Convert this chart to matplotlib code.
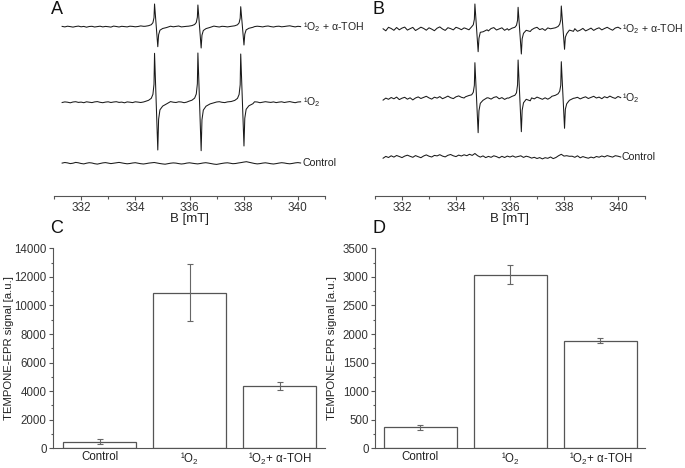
import numpy as np
import matplotlib
matplotlib.use('Agg')
import matplotlib.pyplot as plt
from matplotlib.ticker import MultipleLocator

plt.rcParams['font.family'] = ['Liberation Sans', 'DejaVu Sans']
plt.rcParams['mathtext.fontset'] = 'custom'
plt.rcParams['mathtext.rm'] = 'Liberation Sans'
plt.rcParams['mathtext.it'] = 'Liberation Sans:italic'

# ---- EPR spectra (values in pixel-like intensity units) ----
field = np.round(np.arange(331.3, 340.15, 0.1), 2)   # baseline sampling, mT
pk_dx = np.array([-0.35, -0.22, -0.12, -0.06, -0.02, 0.0, 0.12, 0.15, 0.2, 0.3, 0.45])

lines_A = [334.71, 336.31, 337.89]
lines_B = [334.70, 336.30, 337.90]

# panel A, top: 1O2 + a-TOH
A_top_noise = [0.3,-0.2,0.5,0.1,-0.4,0.2,0.6,-0.1,0.3,-0.5,
               0.2,0.4,-0.3,0.1,0.5,-0.2,0.3,0.0,-0.4,0.6,
               0.2,-0.3,0.4,0.1,-0.2,0.5,0.3,-0.1,0.2,0.8,
               0.4,-0.2,0.3,0.6,0.2,-0.3,0.4,0.1,-0.5,0.2,
               0.5,-0.1,0.3,0.7,-0.2,0.1,0.4,-0.3,0.2,0.6,
               0.0,-0.4,0.3,0.5,-0.1,0.2,0.6,0.1,-0.3,0.4,
               0.2,-0.2,0.5,0.1,-0.4,0.3,0.6,-0.1,0.2,0.4,
               -0.3,0.1,0.5,0.2,-0.2,0.4,0.7,0.1,-0.3,0.3,
               0.5,-0.1,0.2,0.6,0.9,0.3,-0.2,0.4,0.1]
A_top_peaks = [[0.4, 1.0, 2.0, 4.0, 9.0, 22.7, -20.0, -8.0, -3.5, -1.8, -0.8],
               [0.5, 1.1, 2.2, 4.2, 9.5, 21.7, -21.3, -8.5, -3.8, -1.9, -0.7],
               [0.4, 0.9, 1.9, 3.8, 8.5, 20.0, -18.3, -7.5, -3.2, -1.6, -0.6]]
# panel A, middle: 1O2
A_mid_noise = [-0.2,0.4,0.1,-0.5,0.3,0.6,-0.1,0.2,-0.4,0.5,
               0.1,-0.3,0.4,0.7,0.0,-0.4,0.2,0.5,-0.2,0.3,
               0.6,-0.1,0.2,-0.5,0.4,0.1,-0.3,0.5,0.2,-0.2,
               0.3,0.6,0.1,-0.4,0.2,0.5,-0.1,0.3,-0.3,0.4,
               0.7,0.1,-0.2,0.5,0.3,-0.4,0.2,0.6,-0.1,0.3,
               -0.2,0.5,0.1,-0.3,0.4,0.2,-0.5,0.3,0.6,0.0,
               -0.3,0.4,0.2,-0.1,0.5,0.8,0.1,-0.3,0.4,0.2,
               -0.2,0.5,0.3,-0.4,0.1,0.6,0.2,-0.1,0.4,-0.3,
               0.2,0.5,-0.2,0.3,0.7,0.1,-0.4,0.3,0.5]
A_mid_peaks = [[0.8, 2.0, 4.0, 8.0, 18.0, 49.0, -47.7, -17.0, -7.5, -3.8, -1.5],
               [0.9, 2.1, 4.2, 8.3, 18.5, 49.3, -48.4, -17.5, -7.8, -3.9, -1.6],
               [0.8, 1.9, 3.9, 7.8, 17.5, 48.3, -43.7, -16.0, -7.0, -3.5, -1.4]]
# panel A, bottom: control
A_ctrl_noise = [0.2,0.8,0.4,-0.3,0.1,0.9,0.5,-0.2,-0.6,0.1,
                0.6,0.3,-0.4,-0.8,-0.2,0.4,0.7,0.2,-0.3,0.1,
                0.5,0.9,0.4,-0.1,-0.5,-0.2,0.3,0.6,0.1,-0.4,
                -0.7,-0.3,0.2,0.5,0.8,0.3,-0.2,-0.6,-0.9,-0.4,
                0.1,0.4,0.2,-0.3,-0.7,-0.4,0.2,0.5,0.1,-0.3,
                -0.6,-0.2,0.3,0.6,0.2,-0.3,-0.8,-1.1,-0.6,-0.1,
                0.3,0.5,0.1,-0.4,-0.2,0.3,0.7,1.2,1.6,1.0,
                0.4,-0.2,-0.6,-0.3,0.2,0.5,0.1,-0.4,-0.7,-0.3,
                0.2,0.6,0.3,-0.2,-0.5,-0.1,0.4,0.7,0.3]

# panel B, top
B_top_noise = [0.5,-1.5,2.0,0.8,-1.0,1.8,-0.5,1.2,2.2,-0.8,
               0.6,1.9,-1.2,0.4,2.1,0.9,-0.9,1.5,0.2,-1.4,
               1.1,2.4,0.3,-1.1,1.6,0.7,-0.6,2.0,1.0,-0.4,
               1.4,0.1,-1.3,1.2,2.3,0.5,-0.9,1.0,0.2,-1.6,
               0.8,1.7,-0.7,0.4,1.5,-1.0,0.6,1.9,0.1,-1.2,
               1.3,0.4,-0.8,1.8,0.9,-0.5,1.1,2.0,-0.3,0.7,
               -1.1,1.4,0.5,-0.6,1.6,0.2,-1.0,0.9,1.8,-0.4,
               -1.5,0.6,-2.0,-0.8,0.9,-1.6,-0.3,1.2,-1.1,0.5,
               1.5,-0.6,0.8,2.0,0.4,-0.9,1.3,2.1,0.6]
B_top_peaks = [[1.0, -0.5, 2.5, 4.5, 10.0, 25.3, -22.4, -9.0, -3.0, -2.5, -0.5],
               [-0.8, 1.2, 2.0, 4.0, 9.0, 22.0, -24.7, -9.5, -4.0, -1.0, -2.2],
               [0.8, 1.5, 2.8, 5.0, 9.5, 23.3, -20.0, -8.0, -4.5, -0.8, -2.0]]
# panel B, middle
B_mid_noise = [-1.8,0.2,-1.0,0.8,-0.5,1.2,-1.3,0.1,1.0,-0.9,
               0.5,-1.6,0.3,1.4,-0.2,0.9,2.0,0.4,-0.8,1.1,
               0.2,1.7,-0.4,0.8,2.2,0.6,-0.3,1.5,2.4,1.0,
               0.3,1.8,2.6,1.2,3.0,0.8,-0.6,1.0,-1.2,0.4,
               -0.8,0.9,1.6,-0.5,0.7,-1.1,0.3,1.4,0.2,-0.7,
               0.8,1.5,-0.3,0.6,1.9,0.4,-0.6,1.2,0.1,-1.0,
               0.5,-0.9,0.7,-1.4,0.3,1.1,-0.8,0.4,-0.5,0.8,
               -1.2,0.2,1.0,-0.6,0.6,1.5,-0.2,0.9,2.0,0.3,
               1.2,-0.4,1.6,0.5,2.2,0.8,-0.1,1.8,0.7]
B_mid_peaks = [[1.5, 2.8, 3.5, 6.0, 13.0, 35.6, -34.4, -12.5, -5.0, -2.0, 0.5],
               [0.2, 2.0, 3.0, 5.5, 13.5, 38.3, -33.4, -12.0, -4.5, -1.0, -2.5],
               [2.0, 3.0, 4.5, 7.0, 13.0, 36.6, -30.0, -11.0, -5.5, -2.0, 0.0]]
# panel B, bottom: control
B_ctrl_noise = [-1.5,0.3,-0.8,0.9,-0.4,1.2,0.2,-0.9,0.6,1.5,
                0.4,-0.6,1.1,0.0,-1.0,0.7,1.8,0.5,-0.3,1.3,
                0.8,2.0,0.6,-0.2,1.4,2.2,0.9,0.1,1.6,0.7,
                1.9,1.0,2.4,1.3,3.2,1.0,-0.4,0.8,-0.9,0.3,
                -0.6,0.9,0.1,-1.2,0.4,-0.8,0.6,-0.3,0.8,-0.5,
                0.2,0.9,-0.7,0.5,-0.2,-1.4,-0.6,-1.8,-0.9,-2.2,
                -1.0,-1.6,-0.3,-1.9,-0.8,1.0,2.4,0.6,1.0,0.4,
                0.5,-0.6,0.9,-1.1,0.1,-0.8,-1.5,-0.4,-1.2,0.2,
                -0.5,0.7,-0.2,1.1,0.3,-0.4,1.0,0.5,-0.3]

# baseline offsets of the stacked traces
offsets_A = [169.3, 93.7, 32.7]
offsets_B = [166.7, 97.7, 39.3]
trace_labels = ['¹O$_{2}$ + α-TOH', '¹O$_{2}$', 'Control']

# ---- bar data ----
categories = ['Control', '¹O$_{2}$', '¹O$_{2}$+ α-TOH']
C_vals = [460, 10900, 4360]
C_err = [180, 2000, 300]
D_vals = [370, 3040, 1885]
D_err = [45, 170, 40]

ink = '#1a1a1a'
gray = '#555555'


def build_trace(noise, offset, ups=None, peaks=None):
    x = field.copy()
    y = np.array(noise, dtype=float)
    if ups is not None:
        keep = np.ones(len(x), bool)
        for p in ups:
            keep &= ~((x > p - 0.4) & (x < p + 0.5))
        x, y = list(x[keep]), list(y[keep])
        for p, v in zip(ups, peaks):
            x += list(p + pk_dx)
            y += list(v)
        x, y = np.array(x), np.array(y)
        order = np.argsort(x)
        x, y = x[order], y[order]
    return x, y + offset


def style_spec(ax):
    for s in ['left', 'right', 'top']:
        ax.spines[s].set_visible(False)
    ax.spines['bottom'].set_color(gray)
    ax.spines['bottom'].set_linewidth(0.8)
    ax.set_yticks([])
    ax.set_xlim(331, 341)
    ax.set_ylim(0, 196)
    ax.xaxis.set_major_locator(MultipleLocator(2))
    ax.xaxis.set_minor_locator(MultipleLocator(1))
    ax.tick_params(axis='x', which='major', direction='out', length=3, width=0.8,
                   color=gray, labelsize=8.5, labelcolor='#333333', pad=1.5)
    ax.tick_params(axis='x', which='minor', direction='out', length=1.8, width=0.8, color=gray)
    ax.set_xlabel('B [mT]', fontsize=9.5, color='#222222')
    ax.xaxis.set_label_coords(0.5, -0.088)


fig = plt.figure(figsize=(6.85, 4.68), dpi=100)

axA = fig.add_axes([54/685, 272/468, 271/685, 196/468])
axB = fig.add_axes([375/685, 272/468, 270/685, 196/468])

spectra = [
    (axA, [(A_top_noise, A_top_peaks), (A_mid_noise, A_mid_peaks), (A_ctrl_noise, None)], offsets_A, lines_A, 340.17),
    (axB, [(B_top_noise, B_top_peaks), (B_mid_noise, B_mid_peaks), (B_ctrl_noise, None)], offsets_B, lines_B, 340.14),
]
for ax, traces, offs, ups, xlab in spectra:
    style_spec(ax)
    for (noise, peaks), off, lab in zip(traces, offs, trace_labels):
        if peaks is None:
            x, y = build_trace(noise, off)
        else:
            x, y = build_trace(noise, off, ups, peaks)
        ax.plot(x, y, color=ink, lw=0.75)
        ax.text(xlab, off, lab, fontsize=7.6, ha='left', va='center', color='#222222')

# ---- bar panels ----
axC = fig.add_axes([53/685, 19.7/468, 272/685, 200/468])
axD = fig.add_axes([375/685, 19.7/468, 270/685, 200/468])

pos = np.arange(len(categories))
for ax, vals, err, top, major, minor, xl, lab_x in [
        (axC, C_vals, C_err, 14000, 2000, 1000, (-0.52, 2.5), -0.145),
        (axD, D_vals, D_err, 3500, 500, 250, (-0.505, 2.495), -0.14)]:
    ax.bar(pos, vals, width=0.81, color='white', edgecolor=gray, linewidth=0.9)
    ax.errorbar(pos, vals, yerr=err, fmt='none', ecolor='#666666', elinewidth=0.8,
                capsize=2.2, capthick=0.8)
    ax.set_xlim(*xl)
    ax.set_ylim(0, top)
    ax.yaxis.set_major_locator(MultipleLocator(major))
    ax.yaxis.set_minor_locator(MultipleLocator(minor))
    for s in ['right', 'top']:
        ax.spines[s].set_visible(False)
    for s in ['left', 'bottom']:
        ax.spines[s].set_color(gray)
        ax.spines[s].set_linewidth(0.8)
    ax.set_xticks(pos)
    ax.set_xticklabels(categories)
    ax.tick_params(axis='x', length=0, labelsize=8.3, labelcolor='#222222', pad=2)
    ax.tick_params(axis='y', which='major', direction='out', length=3, width=0.8,
                   color=gray, labelsize=8.3, labelcolor='#333333', pad=1.5)
    ax.tick_params(axis='y', which='minor', direction='out', length=1.8, width=0.8, color=gray)
    ax.set_ylabel('TEMPONE-EPR signal [a.u.]', fontsize=8.2, color='#222222')
    ax.yaxis.set_label_coords(lab_x, 0.5)

# panel letters
for lab, x, y in [('A', 57, 10), ('B', 378, 10), ('C', 57, 228), ('D', 379, 228)]:
    fig.text(x/685, 1 - y/468, lab, fontsize=13, ha='center', va='center', color='#111111')

fig.savefig('out.png', dpi=100)
